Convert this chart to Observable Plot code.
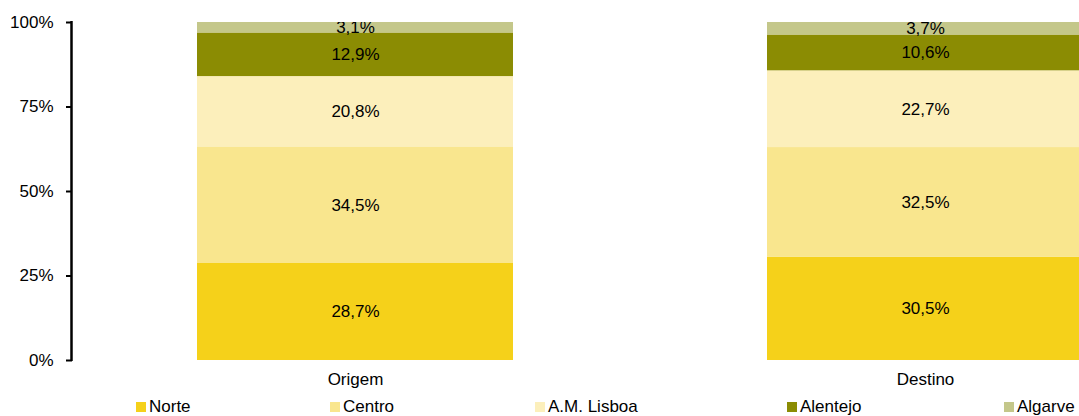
<!DOCTYPE html>
<html>
<head>
<meta charset="utf-8">
<script src="https://cdn.jsdelivr.net/npm/d3@7"></script>
<script src="https://cdn.jsdelivr.net/npm/@observablehq/plot@0.6"></script>
<style>
  html, body { margin: 0; padding: 0; background: #fff; overflow: hidden; }
  #chart { position: relative; width: 1079px; height: 416px; font-family: "Liberation Sans", Arial, sans-serif; }
  #plot svg { display: block; }
  #legend { position: absolute; top: 397px; left: 0; width: 1079px; height: 19px; font-size: 17px; color: #000; }
  .item { position: absolute; top: 0; display: flex; align-items: center; height: 19px; white-space: nowrap; }
  .sw { width: 10px; height: 10px; margin-right: 3px; }
</style>
</head>
<body>
<div id="chart"><div id="plot"></div><div id="legend"></div></div>
<script>
const groups = ["Origem", "Destino"];
const regions = ["Norte", "Centro", "A.M. Lisboa", "Alentejo", "Algarve"];
const colors = ["#F5D11A", "#F9E68E", "#FCEFBB", "#8B8C03", "#C4C78A"];
const origemValues = [28.7, 34.5, 20.8, 12.9, 3.1];
const destinoValues = [30.5, 32.5, 22.7, 10.6, 3.7];
const yTicks = [0, 25, 50, 75, 100];
const legendLeft = [136, 330, 535, 787, 1004];

const seriesByGroup = {Origem: origemValues, Destino: destinoValues};
const data = [];
for (const g of groups) {
  seriesByGroup[g].forEach((v, i) => data.push({group: g, region: regions[i], value: v}));
}
const fmt = v => v.toFixed(1).replace(".", ",") + "%";

const plot = Plot.plot({
  width: 1079,
  height: 396,
  marginLeft: 72,
  marginRight: 0,
  marginTop: 22,
  marginBottom: 36,
  style: {fontFamily: "Liberation Sans, Arial, sans-serif", fontSize: "17px", color: "#000", background: "#fff", overflow: "hidden"},
  x: {domain: groups, range: [70, 1210], paddingInner: 0.4456, paddingOuter: 0.2228, label: null},
  y: {domain: [0, 100], label: null},
  color: {domain: regions, range: colors},
  marks: [
    Plot.barY(data, Plot.stackY({x: "group", y: "value", fill: "region", order: regions, clip: true})),
    Plot.text(data, Plot.stackY({x: "group", y: "value", z: "region", order: regions, text: d => fmt(d.value), fill: "#000", fontSize: 17, clip: true})),
    Plot.axisY({ticks: yTicks, tickFormat: d => d + "%", tickSize: 6, tickPadding: 13, strokeWidth: 2, label: null, fontSize: 17, fill: "#000", stroke: "#000"}),
    Plot.axisX({tickSize: 0, tickPadding: 12, label: null, fontSize: 17, fill: "#000"})
  ]
});

// vertical axis line at the left edge of the frame, positioned through the y scale
const ys = plot.scale("y");
d3.select(plot).append("line")
  .attr("x1", 71.5).attr("x2", 71.5)
  .attr("y1", ys.apply(0) + 1).attr("y2", ys.apply(100) - 1)
  .attr("stroke", "#000").attr("stroke-width", 2.5);

document.getElementById("plot").appendChild(plot);

const legend = document.getElementById("legend");
regions.forEach((r, i) => {
  const item = document.createElement("div");
  item.className = "item";
  item.style.left = legendLeft[i] + "px";
  const sw = document.createElement("span");
  sw.className = "sw";
  sw.style.background = colors[i];
  const tx = document.createElement("span");
  tx.textContent = r;
  item.appendChild(sw);
  item.appendChild(tx);
  legend.appendChild(item);
});
</script>
</body>
</html>
